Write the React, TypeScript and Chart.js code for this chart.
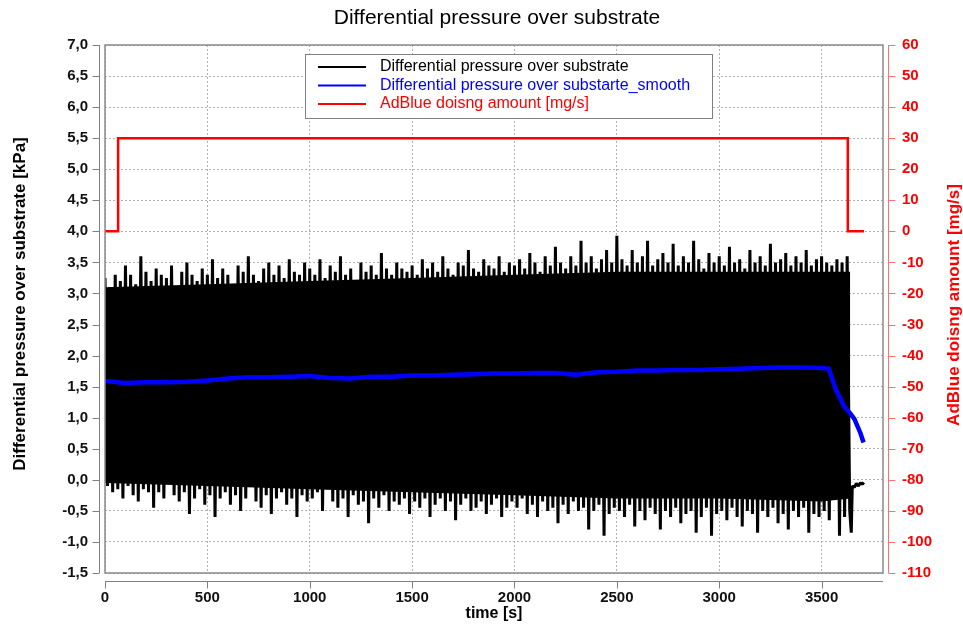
import React, { useEffect, useRef } from "react";
import { Chart, registerables } from "chart.js";

Chart.register(...registerables);

const CHART_TITLE = "Differential pressure over substrate";
const X_TITLE = "time [s]";
const Y_LEFT_TITLE = "Differential pressure over substrate [kPa]";
const Y_RIGHT_TITLE = "AdBlue doisng amount [mg/s]";
const SERIES_LABELS = [
  "Differential pressure over substrate",
  "Differential pressure over substarte_smooth",
  "AdBlue doisng amount [mg/s]",
];
const SERIES_COLORS = ["#000000", "#0000ff", "#ff0000"];

const X_MIN = 0;
const X_MAX = 3800;
const X_TICKS = [0, 500, 1000, 1500, 2000, 2500, 3000, 3500];
const YL_MIN = -1.5;
const YL_MAX = 7;
const YL_TICKS = [-1.5, -1, -0.5, 0, 0.5, 1, 1.5, 2, 2.5, 3, 3.5, 4, 4.5, 5, 5.5, 6, 6.5, 7];
const YR_MIN = -110;
const YR_MAX = 60;
const YR_TICKS = [-110, -100, -90, -80, -70, -60, -50, -40, -30, -20, -10, 0, 10, 20, 30, 40, 50, 60];

// raw signal envelope, one upper / lower peak every 25 s
const rawStep = 25;
const rawHigh = [
  3.25, 3.1, 3.3, 3.2, 3.45, 3.3, 3.15, 3.6, 3.35, 3.2,
  3.4, 3.3, 3.25, 3.45, 3.1, 3.35, 3.5, 3.3, 3.2, 3.4,
  3.3, 3.55, 3.25, 3.4, 3.3, 3.15, 3.45, 3.35, 3.6, 3.3,
  3.2, 3.4, 3.5, 3.3, 3.45, 3.25, 3.55, 3.35, 3.3, 3.5,
  3.4, 3.3, 3.55, 3.25, 3.45, 3.35, 3.6, 3.3, 3.4, 3.2,
  3.5, 3.35, 3.45, 3.3, 3.65, 3.4, 3.3, 3.5, 3.4, 3.35,
  3.45, 3.3, 3.55, 3.4, 3.5, 3.35, 3.6, 3.4, 3.3, 3.5,
  3.45, 3.7, 3.4, 3.35, 3.55, 3.45, 3.4, 3.6, 3.35, 3.5,
  3.45, 3.55, 3.4, 3.65, 3.5, 3.35, 3.6, 3.45, 3.75, 3.5,
  3.4, 3.6, 3.45, 3.85, 3.5, 3.6, 3.4, 3.55, 3.7, 3.5,
  3.93, 3.55, 3.45, 3.7, 3.5, 3.6, 3.85, 3.45, 3.55, 3.65,
  3.5, 3.8, 3.45, 3.6, 3.5, 3.85, 3.55, 3.4, 3.65, 3.5,
  3.6, 3.45, 3.75, 3.5, 3.55, 3.4, 3.7, 3.5, 3.6, 3.45,
  3.8, 3.5, 3.55, 3.65, 3.45, 3.6, 3.5, 3.7, 3.45, 3.55,
  3.6, 3.5, 3.45, 3.55, 3.5, 3.6,
];
const rawLow = [
  -0.1, -0.2, -0.15, -0.3, -0.1, -0.25, -0.35, -0.15, -0.2, -0.45,
  -0.2, -0.3, 0.1, -0.25, -0.35, -0.2, -0.55, -0.3, -0.15, -0.4,
  -0.25, -0.6, -0.3, -0.2, -0.4, -0.25, -0.5, -0.3, 0.15, -0.35,
  -0.45, -0.25, -0.55, -0.3, -0.2, -0.4, -0.3, -0.6, -0.25, -0.35,
  -0.3, -0.2, -0.5, 0.2, -0.35, -0.45, -0.3, -0.6, -0.25, -0.4,
  -0.35, -0.7, -0.3, -0.45, -0.25, -0.5, -0.35, -0.4, -0.3, -0.55,
  -0.35, -0.45, -0.3, -0.6, -0.4, -0.3, -0.5, -0.35, -0.65, -0.4,
  -0.3, -0.5, -0.45, -0.35, -0.55, -0.4, -0.3, -0.6, -0.45, -0.35,
  -0.45, -0.3, -0.55, -0.4, -0.6, -0.35, -0.5, -0.45, -0.7, -0.4,
  -0.55, -0.35, -0.5, -0.45, -0.8, -0.5, -0.4, -0.9, -0.55, -0.45,
  -0.5, -0.6, -0.4, -0.75, -0.5, -0.65, -0.45, -0.55, -0.8, -0.5,
  -0.6, -0.45, -0.7, -0.55, -0.5, -0.85, -0.6, -0.45, -0.9, -0.55,
  -0.5, -0.65, -0.45, -0.6, -0.75, -0.5, -0.55, -0.85, -0.5, -0.6,
  -0.45, -0.7, -0.55, -0.8, -0.5, -0.6, -0.45, -0.85, -0.55, -0.6,
  -0.5, -0.65, 0.2, -0.9, -0.6, -0.5,
];
const rawTailTime = [3645, 3650, 3660, 3670, 3680, 3690, 3700, 3706];
const rawTailValue = [-0.85, -0.1, -0.12, -0.06, -0.1, -0.05, -0.07, -0.04];

// solid (densely oscillating) core of the raw signal
const coreTime = [0, 500, 1000, 1500, 2000, 2500, 3000, 3500, 3640];
const coreHigh = [3.1, 3.15, 3.2, 3.25, 3.3, 3.35, 3.35, 3.35, 3.35];
const coreLow = [-0.05, -0.1, -0.15, -0.2, -0.25, -0.3, -0.3, -0.35, -0.3];

const smoothTime = [
  0, 100, 200, 300, 400, 500, 600, 700, 800, 900, 1000, 1100, 1200, 1300,
  1400, 1500, 1600, 1700, 1800, 1900, 2000, 2100, 2200, 2300, 2400, 2500,
  2600, 2700, 2800, 2900, 3000, 3100, 3200, 3300, 3400, 3500, 3535, 3570,
  3610, 3640, 3660, 3690, 3705,
];
const smoothValue = [
  1.59, 1.56, 1.57, 1.57, 1.58, 1.6, 1.63, 1.65, 1.65, 1.66, 1.67, 1.64, 1.63,
  1.66, 1.66, 1.68, 1.68, 1.69, 1.7, 1.71, 1.71, 1.72, 1.72, 1.69, 1.73, 1.74,
  1.76, 1.76, 1.77, 1.77, 1.78, 1.79, 1.8, 1.81, 1.81, 1.8, 1.79, 1.45, 1.18,
  1.07, 0.98, 0.75, 0.6,
];

const dosingTime = [0, 64, 64, 3628, 3628, 3707];
const dosingValue = [0, 0, 30, 30, 0, 0];

const FONT = "'Liberation Sans', Arial, sans-serif";

function buildRaw() {
  const pts: { x: number; y: number }[] = [];
  for (let i = 0; i < rawHigh.length; i++) {
    pts.push({ x: i * rawStep, y: rawHigh[i] });
    pts.push({ x: i * rawStep + rawStep / 2, y: rawLow[i] });
  }
  for (let i = 0; i < rawTailTime.length; i++) {
    pts.push({ x: rawTailTime[i], y: rawTailValue[i] });
  }
  return pts;
}

const setTicks = (vals: number[]) => (s: any) => {
  s.ticks = vals.map((v) => ({ value: v }));
};

const decorPlugin = {
  id: "decor",
  afterDraw(chart: any) {
    const { ctx, chartArea: a, scales } = chart;
    ctx.save();
    // frame
    ctx.strokeStyle = "#8a8a8a";
    ctx.lineWidth = 1.5;
    ctx.strokeRect(a.left, a.top, a.right - a.left, a.bottom - a.top);

    // left axis line + ticks
    const yl = scales.y;
    const lx = a.left - 5.5;
    ctx.strokeStyle = "#808080";
    ctx.lineWidth = 1;
    ctx.beginPath();
    ctx.moveTo(lx, a.top);
    ctx.lineTo(lx, a.bottom);
    yl.ticks.forEach((t: any) => {
      const py = Math.round(yl.getPixelForValue(t.value)) + 0.5;
      ctx.moveTo(lx - 7, py);
      ctx.lineTo(lx, py);
    });
    ctx.stroke();

    // bottom axis
    const xs = scales.x;
    const by = a.bottom + 8.5;
    ctx.beginPath();
    ctx.moveTo(a.left, by);
    ctx.lineTo(a.right, by);
    xs.ticks.forEach((t: any) => {
      const px = Math.round(xs.getPixelForValue(t.value)) + 0.5;
      ctx.moveTo(px, by);
      ctx.lineTo(px, by + 7);
    });
    ctx.stroke();

    // right axis (red)
    const yr = scales.y2;
    const rx = a.right + 5.5;
    ctx.strokeStyle = "#ff7070";
    ctx.beginPath();
    ctx.moveTo(rx, a.top);
    ctx.lineTo(rx, a.bottom);
    yr.ticks.forEach((t: any) => {
      const py = Math.round(yr.getPixelForValue(t.value)) + 0.5;
      ctx.moveTo(rx, py);
      ctx.lineTo(rx + 7, py);
    });
    ctx.stroke();

    // chart title
    ctx.fillStyle = "#000";
    ctx.font = `21px ${FONT}`;
    ctx.textAlign = "center";
    ctx.textBaseline = "middle";
    ctx.fillText(CHART_TITLE, 497, 18);

    // axis titles
    ctx.font = `bold 16px ${FONT}`;
    ctx.fillText(X_TITLE, 494, 614);
    ctx.font = `bold 17px ${FONT}`;
    ctx.save();
    ctx.translate(20, 304);
    ctx.rotate(-Math.PI / 2);
    ctx.fillText(Y_LEFT_TITLE, 0, 0);
    ctx.restore();
    ctx.save();
    ctx.fillStyle = "#ff0000";
    ctx.translate(954, 305);
    ctx.rotate(-Math.PI / 2);
    ctx.fillText(Y_RIGHT_TITLE, 0, 0);
    ctx.restore();

    // legend box
    const bx = 305.5, bw = 407, byy = 54.5, bh = 64;
    ctx.fillStyle = "#ffffff";
    ctx.fillRect(bx, byy, bw, bh);
    ctx.strokeStyle = "#808080";
    ctx.lineWidth = 1;
    ctx.strokeRect(bx, byy, bw, bh);
    ctx.font = `16px ${FONT}`;
    ctx.textAlign = "left";
    ctx.textBaseline = "middle";
    const rows = [67, 85.5, 104];
    SERIES_LABELS.forEach((lab, i) => {
      ctx.strokeStyle = SERIES_COLORS[i];
      ctx.lineWidth = 2;
      ctx.beginPath();
      ctx.moveTo(318, rows[i]);
      ctx.lineTo(366, rows[i]);
      ctx.stroke();
      ctx.fillStyle = SERIES_COLORS[i];
      ctx.fillText(lab, 380, rows[i]);
    });
    ctx.restore();
  },
};

export default function App() {
  const ref = useRef<HTMLCanvasElement>(null);
  useEffect(() => {
    if (!ref.current) return;
    const tickFont = { family: FONT, size: 15, weight: "bold" };
    const chart = new Chart(ref.current, {
      type: "line",
      data: {
        datasets: [
          {
            label: SERIES_LABELS[0],
            data: buildRaw(),
            borderColor: SERIES_COLORS[0],
            borderWidth: 3,
            borderJoinStyle: "bevel",
            pointRadius: 0,
            tension: 0,
            yAxisID: "y",
            order: 3,
          },
          {
            label: SERIES_LABELS[1],
            data: smoothTime.map((t, i) => ({ x: t, y: smoothValue[i] })),
            borderColor: SERIES_COLORS[1],
            borderWidth: 4.5,
            pointRadius: 0,
            tension: 0,
            yAxisID: "y",
            order: 2,
          },
          {
            label: SERIES_LABELS[2],
            data: dosingTime.map((t, i) => ({ x: t, y: dosingValue[i] })),
            borderColor: SERIES_COLORS[2],
            borderWidth: 2.5,
            pointRadius: 0,
            tension: 0,
            yAxisID: "y2",
            order: 1,
          },
          {
            label: "core high",
            data: coreTime.map((t, i) => ({ x: t, y: coreHigh[i] })),
            borderWidth: 0,
            borderColor: "rgba(0,0,0,0)",
            backgroundColor: "#000000",
            pointRadius: 0,
            fill: "+1",
            yAxisID: "y",
            order: 5,
          },
          {
            label: "core low",
            data: coreTime.map((t, i) => ({ x: t, y: coreLow[i] })),
            borderWidth: 0,
            borderColor: "rgba(0,0,0,0)",
            pointRadius: 0,
            fill: false,
            yAxisID: "y",
            order: 6,
          },
        ],
      },
      options: {
        animation: false,
        responsive: false,
        events: [],
        layout: { padding: { top: 45, left: 0, right: 0, bottom: 0 } },
        plugins: {
          legend: { display: false },
          title: { display: false },
          tooltip: { enabled: false },
          filler: { propagate: false },
        },
        scales: {
          x: {
            type: "linear",
            min: X_MIN,
            max: X_MAX,
            afterBuildTicks: setTicks(X_TICKS),
            ticks: {
              padding: 16,
              maxRotation: 0,
              autoSkip: false,
              color: "#111",
              font: tickFont,
              callback: (v: any) => String(v),
            },
            grid: { color: "#b0b0b0", lineWidth: 1, drawTicks: false },
            border: { display: false, dash: [2, 2] },
            afterFit: (s: any) => {
              s.height = 55;
            },
          },
          y: {
            type: "linear",
            position: "left",
            min: YL_MIN,
            max: YL_MAX,
            afterBuildTicks: setTicks(YL_TICKS),
            ticks: {
              padding: 17,
              autoSkip: false,
              color: "#111",
              font: tickFont,
              callback: (v: any) => Number(v).toFixed(1).replace(".", ","),
            },
            grid: { color: "#b0b0b0", lineWidth: 1, drawTicks: false },
            border: { display: false, dash: [2, 2] },
            afterFit: (s: any) => {
              s.width = 105;
            },
          },
          y2: {
            type: "linear",
            position: "right",
            min: YR_MIN,
            max: YR_MAX,
            afterBuildTicks: setTicks(YR_TICKS),
            ticks: {
              padding: 19,
              autoSkip: false,
              color: "#ff0000",
              font: tickFont,
              callback: (v: any) => String(v),
            },
            grid: { display: false, drawTicks: false },
            border: { display: false },
            afterFit: (s: any) => {
              s.width = 80;
            },
          },
        },
      },
      plugins: [decorPlugin],
    } as any);
    return () => chart.destroy();
  }, []);
  return (
    <div style={{ position: "fixed", left: 0, top: 0, width: 963, height: 628, background: "#fff" }}>
      <canvas ref={ref} width={963} height={628} style={{ display: "block", width: 963, height: 628 }} />
    </div>
  );
}
